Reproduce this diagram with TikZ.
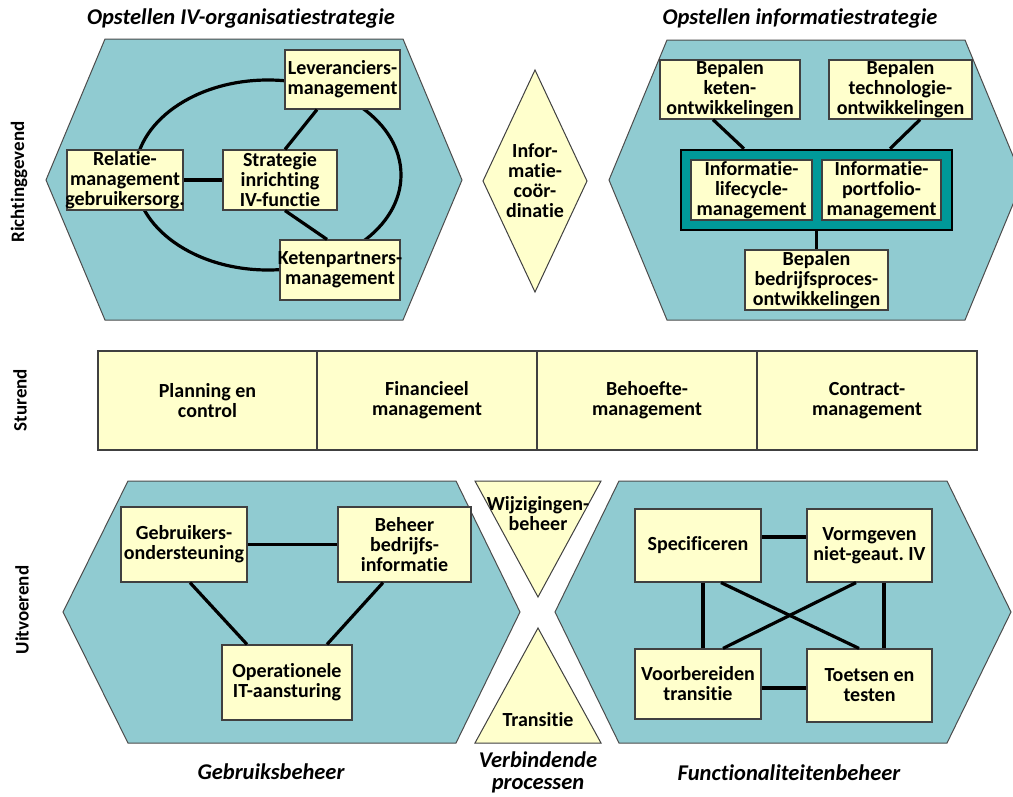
\documentclass[tikz,border=0pt]{standalone}
\usepackage{fontspec}
\setmainfont{Carlito}[Ligatures={NoCommon}]
\frenchspacing
\definecolor{hexfill}{HTML}{90CBD1}
\definecolor{boxfill}{HTML}{FFFFCC}
\definecolor{contfill}{HTML}{009999}
\newcommand\boxnode[6]{%
  \node[bx,minimum width=#4,minimum height=#5] (#1) at (#2,#3) {};
  \node[txt] at (#1) {#6};}
\begin{document}
\begin{tikzpicture}[x=1pt,y=-1pt,
  hex/.style={fill=hexfill,draw=black!70,line width=1},
  bx/.style={draw=black!75,fill=boxfill,line width=1.2,inner sep=0},
  txt/.style={font=\bfseries\fontsize{20}{20}\selectfont,align=center,inner sep=0},
  conn/.style={line width=3.2,draw=black},
  ttl/.style={font=\bfseries\itshape\fontsize{22.5}{22}\selectfont,align=center,inner sep=0},
  side/.style={font=\bfseries\fontsize{19}{20}\selectfont,rotate=90,inner sep=0},
  shp/.style={fill=boxfill,draw=black!75,line width=1},
]
\useasboundingbox (0,0) rectangle (1013,796);
\clip (0,0) rectangle (1013,796);
\fill[white] (0,0) rectangle (1013,796);

% ---------- titles and side labels
\node[ttl] (t1) at (241,18) {Opstellen IV-organisatiestrategie};
\node[ttl] (t2) at (800,18) {Opstellen informatiestrategie};
\node[ttl] (t3) at (271,772) {Gebruiksbeheer};
\node[ttl] (t4) at (538,772) {Verbindende\\processen};
\node[ttl] (t5) at (789,773) {Functionaliteitenbeheer};
\node[side] (s1) at (19,182) {Richtinggevend};
\node[side] (s2) at (20,400) {Sturend};
\node[side] (s3) at (22,610) {Uitvoerend};

% ---------- top-left hexagon
\draw[hex] (105,39) -- (403,39) -- (462,180) -- (403,320) -- (105,320) -- (46,180) -- cycle;
\draw[conn] (268,175) ellipse [x radius=133, y radius=95];
\boxnode{lev}{342.5}{79.5}{115}{59}{Leveranciers-\\management}
\boxnode{rel}{125}{180}{116}{60}{Relatie-\\management\\gebruikersorg.}
\boxnode{str}{280}{180}{114}{60}{Strategie\\inrichting\\IV-functie}
\boxnode{ket}{340}{270}{120}{60}{Ketenpartners-\\management}
\draw[conn] ([xshift=-25.5]lev.south) -- ([xshift=5]str.north);
\draw[conn] ([xshift=5]str.south) -- ([xshift=-13]ket.north);
\draw[conn] (rel.east) -- (str.west);

% ---------- diamond
\draw[shp] (535,70) -- (587,181) -- (535,292) -- (483,181) -- cycle;
\node[txt] (dia) at (535,181) {Infor-\\matie-\\coör-\\dinatie};

% ---------- top-right hexagon
\draw[hex] (667,40) -- (965,40) -- (1023,180) -- (965,320) -- (667,320) -- (609,180) -- cycle;
\boxnode{bke}{730}{89.5}{140}{59}{Bepalen\\keten-\\ontwikkelingen}
\boxnode{bte}{900.5}{89.5}{143}{59}{Bepalen\\technologie-\\ontwikkelingen}
\node[draw=black,line width=2.5,fill=contfill,minimum width=271,minimum height=80,inner sep=0] (cont) at (816.5,190) {};
\boxnode{ilm}{751.5}{190}{121}{60}{Informatie-\\lifecycle-\\management}
\boxnode{ipm}{881.5}{190}{119}{60}{Informatie-\\portfolio-\\management}
\boxnode{bpo}{816.5}{280}{143}{60}{Bepalen\\bedrijfsproces-\\ontwikkelingen}
\draw[conn] ([xshift=-17]bke.south) -- ([xshift=-72.5]cont.north);
\draw[conn] ([xshift=19.5]bte.south) -- ([xshift=73.5]cont.north);
\draw[conn] (cont.south) -- (bpo.north);

% ---------- sturend row
\boxnode{pc}{207.5}{400.5}{219}{99}{Planning en\\control}
\boxnode{fm}{427}{400.5}{220}{99}{Financieel\\management}
\boxnode{bm}{647}{400.5}{220}{99}{Behoefte-\\management}
\boxnode{cm}{867}{400.5}{220}{99}{Contract-\\management}

% ---------- bottom-left hexagon
\draw[hex] (128,481) -- (456,481) -- (520,612) -- (456,743) -- (128,743) -- (63,612) -- cycle;
\boxnode{geb}{184}{544.5}{126}{75}{Gebruikers-\\ondersteuning}
\boxnode{beh}{404.5}{544.5}{133}{75}{Beheer\\bedrijfs-\\informatie}
\boxnode{ope}{287}{682.5}{130}{75}{Operationele\\IT-aansturing}
\draw[conn] (geb.east) -- (beh.west);
\draw[conn] ([xshift=6]geb.south) -- ([xshift=-40]ope.north);
\draw[conn] ([xshift=-21.5]beh.south) -- ([xshift=40]ope.north);

% ---------- connecting triangles
\draw[shp] (475,481) -- (601,481) -- (538,597) -- cycle;
\node[txt] (wij) at (538,514) {Wijzigingen-\\beheer};
\draw[shp] (538,628) -- (601,743) -- (475,743) -- cycle;
\node[txt] (tra) at (538,720) {Transitie};

% ---------- bottom-right hexagon
\draw[hex] (619,481) -- (947,481) -- (1011,612) -- (947,743) -- (619,743) -- (555,612) -- cycle;
\boxnode{spe}{698}{545.5}{126}{73}{Specificeren}
\boxnode{vor}{869.5}{545.5}{125}{73}{Vormgeven\\niet-geaut. IV}
\boxnode{voo}{698}{684}{126}{70}{Voorbereiden\\transitie}
\boxnode{toe}{869.5}{685.5}{125}{73}{Toetsen en\\testen}
\draw[conn] ([yshift=8.5]spe.east) -- ([yshift=8.5]vor.west);
\draw[conn] ([xshift=5]spe.south) -- ([xshift=5]voo.north);
\draw[conn] ([xshift=14.5]vor.south) -- ([xshift=14.5]toe.north);
\draw[conn] ([xshift=23]spe.south) -- ([xshift=-10.5]toe.north);
\draw[conn] ([xshift=-13.5]vor.south) -- ([xshift=25]voo.north);
\draw[conn] ([yshift=-4]voo.east) -- ([yshift=-2.5]toe.west);
\end{tikzpicture}
\end{document}
